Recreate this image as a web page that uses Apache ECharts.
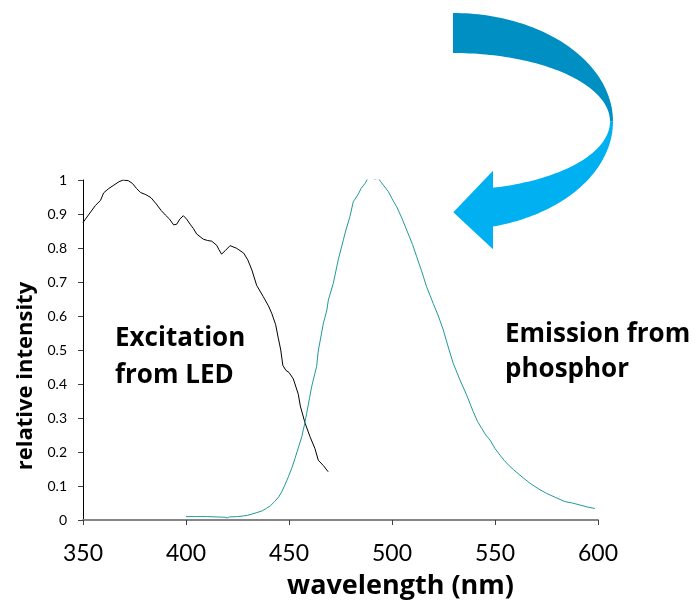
<!DOCTYPE html>
<html>
<head>
<meta charset="utf-8">
<script src="https://cdn.jsdelivr.net/npm/echarts@6/dist/echarts.min.js"></script>
<style>
html,body{margin:0;padding:0;background:#fff;}
#chart{width:695px;height:600px;}
</style>
</head>
<body>
<div id="chart"></div>
<script>
// ---- data ----
const excWavelength = [350,353,356,358.5,360,362.5,365,367.5,369.5,372,374,376,378,380.5,383,385.5,388,390,392,394,395.5,397,398.7,400.3,402,403.5,405.2,408.4,410.5,412.5,414.9,416,417.3,419,421.4,424.6,428,430,432,434.3,437.5,440,441.6,443.5,444.8,446,447,448.5,450,452.1,454.5,455.5,457.8,460.2,462.6,464.2,466.7,469];
const excIntensity  = [0.875,0.9,0.925,0.94,0.962,0.975,0.985,0.995,1.0,0.998,0.99,0.975,0.963,0.957,0.948,0.93,0.91,0.897,0.885,0.868,0.87,0.885,0.895,0.885,0.87,0.858,0.841,0.826,0.822,0.82,0.808,0.795,0.782,0.792,0.807,0.799,0.785,0.765,0.735,0.69,0.657,0.63,0.608,0.575,0.535,0.5,0.455,0.44,0.434,0.415,0.37,0.335,0.285,0.245,0.21,0.176,0.16,0.142];

const emWavelength = [400,405,410,415,419,420,421,425,428,430,434,437,439,441,443,445,446.5,448,449.7,451.5,452.9,454.5,456.2,457.5,458.6,460,461,462.5,463.4,464.2,466.7,468.3,469.1,471.5,473.9,476.4,477.5,479.6,481.2,483.6,485,486.9,488.3,489.3,490.5,491.7,493.4,494.5,495.8,498.2,500,502.3,505,507.1,510,512,514.5,516.8,518.5,520,522.5,524.9,527,529.7,533,536.2,539.4,541.5,543.5,545.5,547.6,550,552.4,554.5,556.5,559,562.1,564.5,567,571,575.1,579.5,584,587.5,591.3,595,598.5];
const emIntensity  = [0.01,0.01,0.01,0.009,0.008,0.006,0.009,0.01,0.012,0.014,0.021,0.027,0.034,0.042,0.054,0.068,0.083,0.103,0.127,0.155,0.181,0.212,0.245,0.28,0.314,0.36,0.392,0.43,0.451,0.497,0.579,0.615,0.647,0.696,0.765,0.824,0.85,0.893,0.936,0.958,0.975,0.99,1.005,1.01,1.007,1.002,1.005,0.995,0.985,0.966,0.945,0.921,0.885,0.853,0.81,0.774,0.73,0.686,0.66,0.637,0.6,0.559,0.515,0.461,0.412,0.368,0.319,0.29,0.27,0.25,0.235,0.21,0.191,0.175,0.162,0.148,0.132,0.12,0.108,0.092,0.078,0.066,0.054,0.05,0.044,0.038,0.034];

const xTickLabels = ['350','400','450','500','550','600'];
const yTickLabels = ['0','0.1','0.2','0.3','0.4','0.5','0.6','0.7','0.8','0.9','1'];
const excLabel = 'Excitation\nfrom LED';
const emLabel = 'Emission from\nphosphor';
const xTitle = 'wavelength (nm)';
const yTitle = 'relative intensity';

// ---- decorative curved arrow (not data) ----
function ellipsePts(cx, cy, rx, ry, t0, t1, n) {
  const pts = [];
  for (let i = 0; i <= n; i++) {
    const t = t0 + (t1 - t0) * i / n;
    pts.push([cx + rx * Math.cos(t), cy + ry * Math.sin(t)]);
  }
  return pts;
}
const acx = 453, acy = 121.5;
const oRx = 160, oRy = 108.5, iRx = 157, iRy = 68.5;
const darkPts = ellipsePts(acx, acy, oRx, oRy, -Math.PI/2, 0, 60)
  .concat(ellipsePts(acx, acy, iRx, iRy, 0, -Math.PI/2, 60));
const tEndO = Math.acos(40 / oRx), tEndI = Math.acos(40 / iRx);
const lightPts = ellipsePts(acx, acy, oRx, oRy, 0, tEndO, 60)
  .concat(ellipsePts(acx, acy, iRx, iRy, tEndI, 0, 60));

const TICKFONT = 'Lato, "Open Sans", sans-serif';
const BOLDFONT = '"Open Sans", "Noto Sans", sans-serif';

const chart = echarts.init(document.getElementById('chart'), null, {renderer: 'canvas'});
chart.setOption({
  animation: false,
  backgroundColor: '#ffffff',
  grid: {left: 83, right: 97, top: 180, bottom: 80, containLabel: false, outerBoundsMode: 'none'},
  xAxis: {
    type: 'value', min: 350, max: 600, interval: 50,
    splitLine: {show: false},
    axisLine: {show: true, lineStyle: {color: '#868686', width: 2}},
    axisTick: {show: true, inside: false, length: 5, lineStyle: {color: '#404040', width: 1}},
    axisLabel: {
      color: '#000', fontSize: 23, fontFamily: TICKFONT, margin: 22,
      formatter: (v) => xTickLabels[Math.round((v - 350) / 50)] || ''
    },
    name: xTitle, nameLocation: 'middle', nameGap: 53,
    nameTextStyle: {color: '#000', fontSize: 27, fontWeight: 'bold', fontFamily: BOLDFONT, padding: [0, 0, 0, 120]}
  },
  yAxis: {
    type: 'value', min: 0, max: 1, interval: 0.1,
    splitLine: {show: false},
    axisLine: {show: true, lineStyle: {color: '#000000', width: 1}},
    axisTick: {show: true, inside: false, length: 5, lineStyle: {color: '#404040'}},
    axisLabel: {
      color: '#000', fontSize: 14, fontFamily: TICKFONT, margin: 16,
      formatter: (v) => yTickLabels[Math.round(v * 10)] || ''
    },
    name: yTitle, nameLocation: 'middle', nameGap: 44, nameRotate: 90,
    nameTextStyle: {color: '#000', fontSize: 22, fontWeight: 'bold', fontFamily: BOLDFONT, padding: [0, 52, 0, 0]}
  },
  series: [
    {
      name: 'Excitation', type: 'line', showSymbol: false, smooth: false,
      data: excWavelength.map((w, i) => [w, excIntensity[i]]),
      lineStyle: {color: '#000000', width: 1}
    },
    {
      name: 'Emission', type: 'line', showSymbol: false, smooth: false,
      data: emWavelength.map((w, i) => [w, emIntensity[i]]),
      lineStyle: {color: '#1F9A98', width: 1}
    }
  ],
  graphic: [
    {type: 'polygon', shape: {points: darkPts}, style: {fill: '#008FC2'}, silent: true},
    {type: 'polygon', shape: {points: lightPts}, style: {fill: '#00B0F0'}, silent: true},
    {type: 'polygon', shape: {points: [[493, 170.7], [453.3, 212.3], [493, 249.3]]}, style: {fill: '#00B0F0'}, silent: true},
    {type: 'text', left: 115, top: 320, style: {text: excLabel, font: 'bold 26px ' + BOLDFONT, fill: '#000', lineHeight: 37}},
    {type: 'text', left: 505, top: 317, style: {text: emLabel, font: 'bold 26px ' + BOLDFONT, fill: '#000', lineHeight: 35}}
  ]
});
</script>
</body>
</html>
